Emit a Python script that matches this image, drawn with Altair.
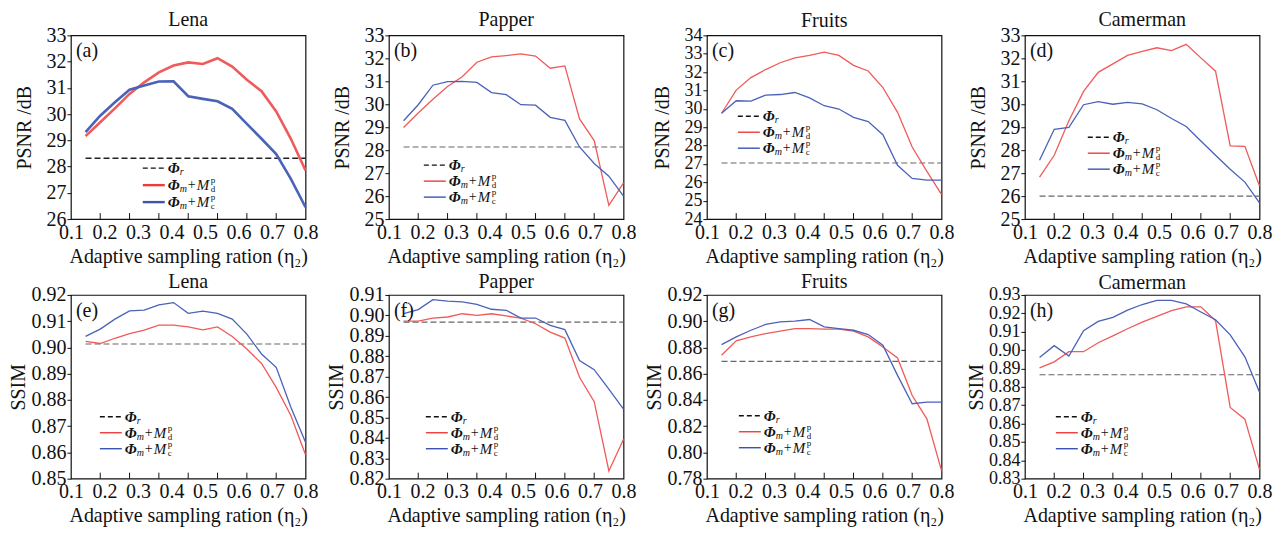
import altair as alt
import pandas as pd

FONT = "Liberation Serif"
RED = "#ee3b3b"
BLUE = "#3b54b0"

# x grid of the curves (true positions on the axis)
x_vals = [0.15, 0.20, 0.25, 0.30, 0.35, 0.40, 0.45, 0.50, 0.55, 0.60, 0.65, 0.70, 0.75, 0.80, 0.85, 0.90]
xtick_marks = [0.2, 0.3, 0.4, 0.5, 0.6, 0.7, 0.8]
xtick_labels = ["0.1", "0.2", "0.3", "0.4", "0.5", "0.6", "0.7", "0.8"]

titles = ["Lena", "Papper", "Fruits", "Camerman"]
letters = ["(a)", "(b)", "(c)", "(d)", "(e)", "(f)", "(g)", "(h)"]

# PSNR
lena_psnr_d = [29.16, 29.69, 30.22, 30.77, 31.21, 31.59, 31.85, 31.97, 31.91, 32.13, 31.81, 31.31, 30.87, 30.10, 29.06, 27.85]
lena_psnr_c = [29.31, 29.94, 30.45, 30.93, 31.09, 31.24, 31.25, 30.68, 30.58, 30.49, 30.20, 29.63, 29.06, 28.48, 27.53, 26.45]
papper_psnr_d = [28.99, 29.62, 30.22, 30.77, 31.20, 31.83, 32.06, 32.12, 32.19, 32.10, 31.57, 31.67, 29.36, 28.42, 25.60, 26.58]
papper_psnr_c = [29.28, 29.98, 30.83, 30.99, 31.00, 30.95, 30.51, 30.42, 29.98, 29.96, 29.43, 29.30, 28.14, 27.42, 26.87, 26.00]
fruits_psnr_d = [29.76, 31.02, 31.70, 32.14, 32.51, 32.78, 32.91, 33.09, 32.91, 32.37, 32.06, 31.16, 29.81, 27.92, 26.60, 25.34]
fruits_psnr_c = [29.76, 30.44, 30.42, 30.75, 30.78, 30.89, 30.60, 30.17, 29.99, 29.54, 29.31, 28.59, 26.93, 26.21, 26.12, 26.12]
camerman_psnr_d = [26.83, 27.78, 29.28, 30.56, 31.39, 31.76, 32.13, 32.30, 32.46, 32.34, 32.61, 32.02, 31.44, 28.19, 28.17, 26.44]
camerman_psnr_c = [27.56, 28.91, 28.99, 29.98, 30.11, 30.00, 30.08, 30.02, 29.76, 29.38, 29.03, 28.40, 27.78, 27.17, 26.61, 25.71]
psnr_ref = [28.32, 28.14, 27.05, 26.00]

# SSIM
lena_ssim_d = [0.9023, 0.9015, 0.9035, 0.9053, 0.9066, 0.9085, 0.9085, 0.9078, 0.9067, 0.9078, 0.9042, 0.8994, 0.8939, 0.8848, 0.8741, 0.8591]
lena_ssim_c = [0.9042, 0.9070, 0.9108, 0.9139, 0.9142, 0.9162, 0.9171, 0.9130, 0.9138, 0.9130, 0.9108, 0.9051, 0.8975, 0.8924, 0.8772, 0.8639]
papper_ssim_d = [0.8972, 0.8972, 0.8987, 0.8992, 0.9008, 0.9000, 0.9008, 0.8997, 0.8987, 0.8959, 0.8918, 0.8889, 0.8697, 0.8577, 0.8238, 0.8393]
papper_ssim_c = [0.9008, 0.9028, 0.9077, 0.9070, 0.9066, 0.9054, 0.9030, 0.9025, 0.8987, 0.8987, 0.8951, 0.8930, 0.8779, 0.8734, 0.8639, 0.8541]
fruits_ssim_d = [0.8740, 0.8850, 0.8880, 0.8906, 0.8924, 0.8944, 0.8944, 0.8939, 0.8939, 0.8924, 0.8880, 0.8804, 0.8720, 0.8434, 0.8256, 0.7861]
fruits_ssim_c = [0.8822, 0.8880, 0.8931, 0.8975, 0.8995, 0.9000, 0.9013, 0.8957, 0.8944, 0.8931, 0.8898, 0.8817, 0.8587, 0.8371, 0.8383, 0.8383]
camerman_ssim_d = [0.8903, 0.8936, 0.8991, 0.8991, 0.9040, 0.9077, 0.9116, 0.9152, 0.9183, 0.9215, 0.9235, 0.9235, 0.9160, 0.8688, 0.8624, 0.8349]
camerman_ssim_c = [0.8960, 0.9024, 0.8967, 0.9105, 0.9156, 0.9178, 0.9217, 0.9248, 0.9270, 0.9270, 0.9251, 0.9207, 0.9165, 0.9083, 0.8963, 0.8771]
ssim_ref = [0.9013, 0.8967, 0.8694, 0.8866]

# y axis tick values per panel
yticks_a = [26, 27, 28, 29, 30, 31, 32, 33]
yticks_b = [25, 26, 27, 28, 29, 30, 31, 32, 33]
yticks_c = [24, 25, 26, 27, 28, 29, 30, 31, 32, 33, 34]
yticks_d = [25, 26, 27, 28, 29, 30, 31, 32, 33]
yticks_e = [0.85, 0.86, 0.87, 0.88, 0.89, 0.90, 0.91, 0.92]
yticks_f = [0.82, 0.83, 0.84, 0.85, 0.86, 0.87, 0.88, 0.89, 0.90, 0.91]
yticks_g = [0.78, 0.80, 0.82, 0.84, 0.86, 0.88, 0.90, 0.92]
yticks_h = [0.83, 0.84, 0.85, 0.86, 0.87, 0.88, 0.89, 0.90, 0.91, 0.92, 0.93]

W, H = 235, 184
XTITLE = "Adaptive sampling ration (η₂)"

label_pos = [0.1 + k * 0.8 / 7 for k in range(len(xtick_labels))]
label_expr = "[" + ",".join("'%s'" % s for s in xtick_labels) + "][round((datum.value - 0.1) * 8.75)]"

ONE = alt.Data(values=[{"k": 0}])


def txt(s, x, y, size, style="normal", weight="normal"):
    return alt.Chart(ONE).mark_text(
        text=s, align="left", baseline="middle", font=FONT, fontSize=size,
        fontStyle=style, fontWeight=weight, color="#111"
    ).encode(x=alt.value(x), y=alt.value(y))


def legend_layers(lx, ly, dy, thick):
    layers = []
    specs = [("r", "#111", [5, 3]), ("d", RED, None), ("c", BLUE, None)]
    for k, (kind, col, dash) in enumerate(specs):
        y = ly + k * dy
        kw = dict(color=col, strokeWidth=(2.4 if thick and dash is None else 1.4))
        if dash:
            kw["strokeDash"] = dash
        layers.append(alt.Chart(ONE).mark_rule(**kw).encode(
            x=alt.value(lx), x2=alt.value(lx + 22), y=alt.value(y)))
        layers.append(txt("Φ", lx + 25, y, 15, "italic", "bold"))
        if kind == "r":
            layers.append(txt("r", lx + 37, y + 4, 10, "italic"))
        else:
            layers.append(txt("m", lx + 37, y + 4, 10, "italic"))
            layers.append(txt("+", lx + 45, y, 14))
            layers.append(txt("M", lx + 54, y, 15, "italic"))
            layers.append(txt("p", lx + 68, y - 5, 9))
            layers.append(txt(kind, lx + 68, y + 4, 9))
    return layers


def panel(title, letter, red, blue, ref, ydom, yticks, yfmt, ytitle, leg, thick=False, lab=20,
          toff=-5, tpad=11):
    df = pd.DataFrame({
        "x": x_vals + x_vals,
        "y": red + blue,
        "s": ["d"] * len(red) + ["c"] * len(blue),
    })
    xenc = alt.X("x:Q", scale=alt.Scale(domain=[0.1, 0.9], nice=False, zero=False),
                 axis=alt.Axis(values=label_pos, labelExpr=label_expr, ticks=False, domain=False,
                               grid=False, title=XTITLE, labelFontSize=20, titleFontSize=20,
                               labelPadding=3, titlePadding=4, labelOverlap=False, labelFlush=False,
                               labelFont=FONT, titleFont=FONT, labelColor="#111", titleColor="#111",
                               titleFontWeight="normal"))
    yenc = alt.Y("y:Q", scale=alt.Scale(domain=ydom, nice=False, zero=False),
                 axis=alt.Axis(values=yticks, format=yfmt, title=ytitle, grid=False, domain=False,
                               tickSize=4, tickColor="#111", labelFontSize=lab, titleFontSize=20,
                               labelPadding=1, titlePadding=tpad, labelOverlap=False, labelFlush=False,
                               labelFont=FONT, titleFont=FONT, labelColor="#111", titleColor="#111",
                               titleFontWeight="normal"))
    lines = alt.Chart(df).mark_line(strokeWidth=(2.6 if thick else 1.3)).encode(
        x=xenc, y=yenc,
        color=alt.Color("s:N", scale=alt.Scale(domain=["d", "c"],
                                                range=[("#f05a5a" if thick else RED), ("#4a62b8" if thick else BLUE)]),
                        legend=None),
        order=alt.Order("x:Q"),
    )
    refdf = pd.DataFrame({"x": [x_vals[0]], "x2": [x_vals[-1]], "y": [ref]})
    refline = alt.Chart(refdf).mark_rule(
        strokeDash=[6, 3], color=("#222" if thick else "#666"), strokeWidth=(1.6 if thick else 1.1)
    ).encode(x=xenc, x2="x2:Q", y=yenc)
    tdf = pd.DataFrame({"x": xtick_marks})
    xt = alt.Chart(tdf).mark_rule(color="#111", strokeWidth=1).encode(
        x=xenc, y=alt.value(H), y2=alt.value(H - 6))
    tag = txt(letter, 5, 16, 20)
    layers = [refline, lines, xt, tag] + legend_layers(*leg, thick)
    return alt.layer(*layers).properties(
        width=W, height=H,
        title=alt.TitleParams(title, fontSize=20, font=FONT, fontWeight="normal", color="#111", offset=toff),
    )


panels = [
    panel(titles[0], letters[0], lena_psnr_d, lena_psnr_c, psnr_ref[0], [26, 33], yticks_a, "d", "PSNR /dB", (72, 133, 17), thick=True),
    panel(titles[1], letters[1], papper_psnr_d, papper_psnr_c, psnr_ref[1], [25, 33], yticks_b, "d", "PSNR /dB", (35, 130, 16)),
    panel(titles[2], letters[2], fruits_psnr_d, fruits_psnr_c, psnr_ref[2], [24, 34], yticks_c, "d", "PSNR /dB", (31, 81, 16), lab=18),
    panel(titles[3], letters[3], camerman_psnr_d, camerman_psnr_c, psnr_ref[3], [25, 33], yticks_d, "d", "PSNR /dB", (63, 102, 16)),
    panel(titles[0], letters[4], lena_ssim_d, lena_ssim_c, ssim_ref[0], [0.85, 0.92], yticks_e, ".2f", "SSIM", (29, 122, 16), toff=-7, tpad=2),
    panel(titles[1], letters[5], papper_ssim_d, papper_ssim_c, ssim_ref[1], [0.82, 0.91], yticks_f, ".2f", "SSIM", (37, 122, 16), toff=-7, tpad=2),
    panel(titles[2], letters[6], fruits_ssim_d, fruits_ssim_c, ssim_ref[2], [0.78, 0.92], yticks_g, ".2f", "SSIM", (32, 121, 16), toff=-7, tpad=2),
    panel(titles[3], letters[7], camerman_ssim_d, camerman_ssim_c, ssim_ref[3], [0.83, 0.93], yticks_h, ".2f", "SSIM", (31, 122, 16), lab=18, toff=-7, tpad=2),
]

chart = alt.concat(
    *panels, columns=4, spacing={"row": 76, "column": 83.5}, bounds="flush",
).properties(
    padding={"left": 0, "top": 1, "right": 5, "bottom": 2},
    background="white",
).configure_view(stroke="#111", strokeWidth=1.2)

chart.save("out.html", embed_options={"renderer": "svg", "actions": False})
